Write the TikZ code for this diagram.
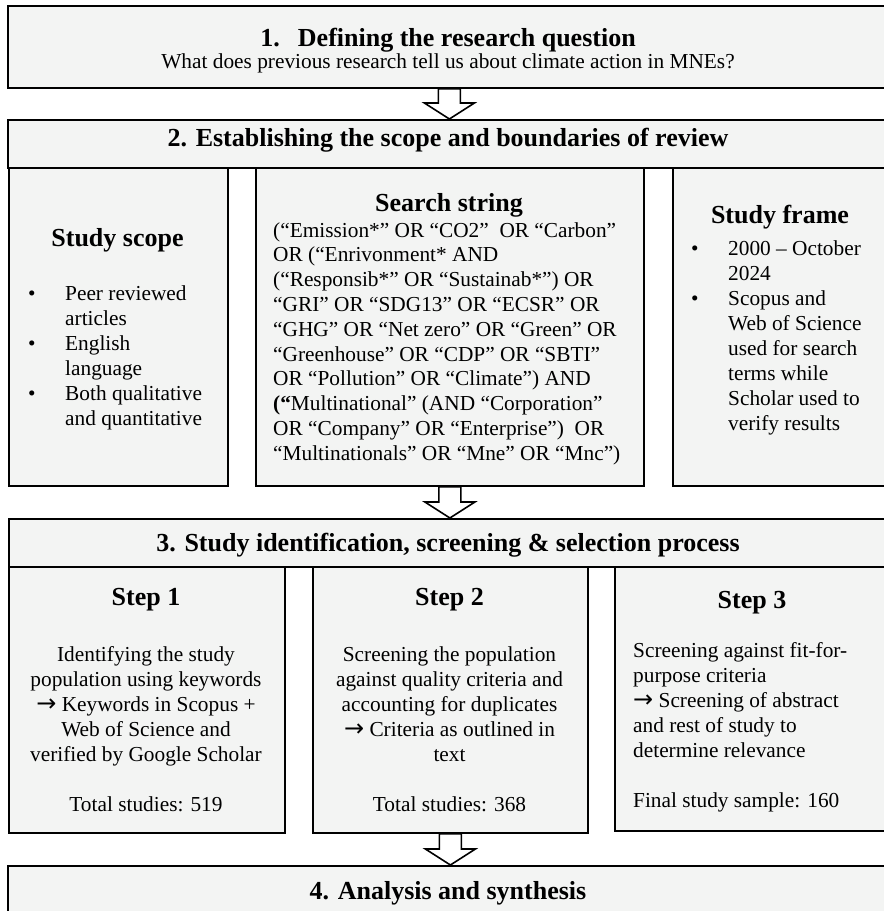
\documentclass[tikz,border=0pt]{standalone}
\usepackage{fontspec}
\setmainfont{Liberation Serif}
\newfontfamily\arrowfont{DejaVu Sans}
\usepackage{xcolor}
\usetikzlibrary{calc}
\definecolor{panelgrey}{HTML}{F3F4F3}
\newcommand{\then}{{\arrowfont\fontsize{24}{24}\selectfont →}}
\tikzset{
	panel/.style={draw, line width=1.8pt, fill=panelgrey, anchor=north west, inner sep=0pt},
	head/.style={font=\fontsize{26}{28}\selectfont\bfseries, inner sep=0pt, anchor=base},
	body/.style={font=\fontsize{21.33}{25}\selectfont, inner sep=0pt, anchor=base},
	hollow/.style={draw, line width=1.6pt, fill=white, line join=miter}
}
\newcommand{\flowarrow}[2]{%
	\draw[hollow] ($(#1.south)+(-11,0)$) -- ($(#1.south |- #2.north)+(-11,-16)$) -- ++(-14,0)
		-- (#1.south |- #2.north) -- ++(25,-16) -- ++(-14,0) -- ($(#1.south)+(11,0)$) -- cycle;}
\begin{document}
\begin{tikzpicture}[x=1pt, y=-1pt]
		\useasboundingbox (0,0) rectangle (884,911);
		\clip (0,0) rectangle (884,911);
		\node[panel, minimum width=883pt, minimum height=82pt] (question) at (7,5) {};
		\node[head] (questiontitle) at (448,46.7) {1.\hspace{0.7em}Defining the research question};
		\node[body] (questiontext) at (448,68.3) {What does previous research tell us about climate action in MNEs?};
		\node[panel, minimum width=883pt, minimum height=48pt] (scopehead) at (7,119) {};
		\node[head] (scopeheadtext) at (448,146.7) {2. Establishing the scope and boundaries of review};
		\node[panel, minimum width=219pt, minimum height=318pt] (scope) at (8,167) {};
		\node[panel, minimum width=388pt, minimum height=318pt] (search) at (255,167) {};
		\node[panel, minimum width=218pt, minimum height=318pt] (frame) at (672,167) {};
		\node[head] (scopetitle) at (117.5,246.7) {Study scope};
		\node[body, anchor=base west] (scopelist) at (28,300) {\begin{tabular}[t]{@{}p{37pt}@{}l@{}}
			• & Peer reviewed\\ & articles\\ • & English\\ & language\\ • & Both qualitative\\ & and quantitative
		\end{tabular}};
		\node[head] (searchtitle) at (449,211.7) {Search string};
		\node[body, anchor=base west, font=\fontsize{21.33}{24.8}\selectfont] (searchtext) at (273,237) {\begin{tabular}[t]{@{}l@{}}
			(“Emission*” OR “CO2”~ OR “Carbon”\\
			OR (“Enrivonment* AND\\
			(“Responsib*” OR “Sustainab*”) OR\\
			“GRI” OR “SDG13” OR “ECSR” OR\\
			“GHG” OR “Net zero” OR “Green” OR\\
			“Greenhouse” OR “CDP” OR “SBTI”\\
			OR “Pollution” OR “Climate”) AND\\
			\textbf{(“}Multinational” (AND “Corporation”\\
			OR “Company” OR “Enterprise”)~ OR\\
			“Multinationals” OR “Mne” OR “Mnc”)
		\end{tabular}};
		\node[head] (frametitle) at (780,223) {Study frame};
		\node[body, anchor=base west] (framelist) at (691,255) {\begin{tabular}[t]{@{}p{37pt}@{}l@{}}
			• & 2000 – October\\ & 2024\\ • & Scopus and\\ & Web of Science\\ & used for search\\ & terms while\\ & Scholar used to\\ & verify results
		\end{tabular}};
		\node[panel, minimum width=882pt, minimum height=48pt] (stephead) at (8,518) {};
		\node[head] (stepheadtext) at (448,551.7) {3. Study identification, screening \& selection process};
		\node[panel, minimum width=276pt, minimum height=266pt] (stepone) at (8,566) {};
		\node[panel, minimum width=275pt, minimum height=266pt] (steptwo) at (312,566) {};
		\node[panel, minimum width=276pt, minimum height=264pt] (stepthree) at (614,566) {};
		\node[head] (steponetitle) at (146,605) {Step 1};
		\node[head] (steptwotitle) at (449.5,605) {Step 2};
		\node[head] (stepthreetitle) at (752,608) {Step 3};
		\node[body] (steponetext) at (146,661) {\begin{tabular}[t]{@{}c@{}}
			Identifying the study\\population using keywords\\\then{} Keywords in Scopus +\\Web of Science and\\verified by Google Scholar\\[25pt]Total studies: 519
		\end{tabular}};
		\node[body] (steptwotext) at (449.5,661) {\begin{tabular}[t]{@{}c@{}}
			Screening the population\\against quality criteria and\\accounting for duplicates\\\then{} Criteria as outlined in\\text\\[25pt]Total studies: 368
		\end{tabular}};
		\node[body, anchor=base west] (stepthreetext) at (633,657) {\begin{tabular}[t]{@{}l@{}}
			Screening against fit-for-\\purpose criteria\\\then{} Screening of abstract\\and rest of study to\\determine relevance\\[25pt]Final study sample: 160
		\end{tabular}};
		\node[panel, minimum width=883pt, minimum height=80pt] (synthesis) at (7,865) {};
		\node[head] (synthesistext) at (448,899) {4. Analysis and synthesis};
		\flowarrow{question}{scopehead}
		\flowarrow{search}{stephead}
		\flowarrow{steptwo}{synthesis}
	\end{tikzpicture}
\end{document}
